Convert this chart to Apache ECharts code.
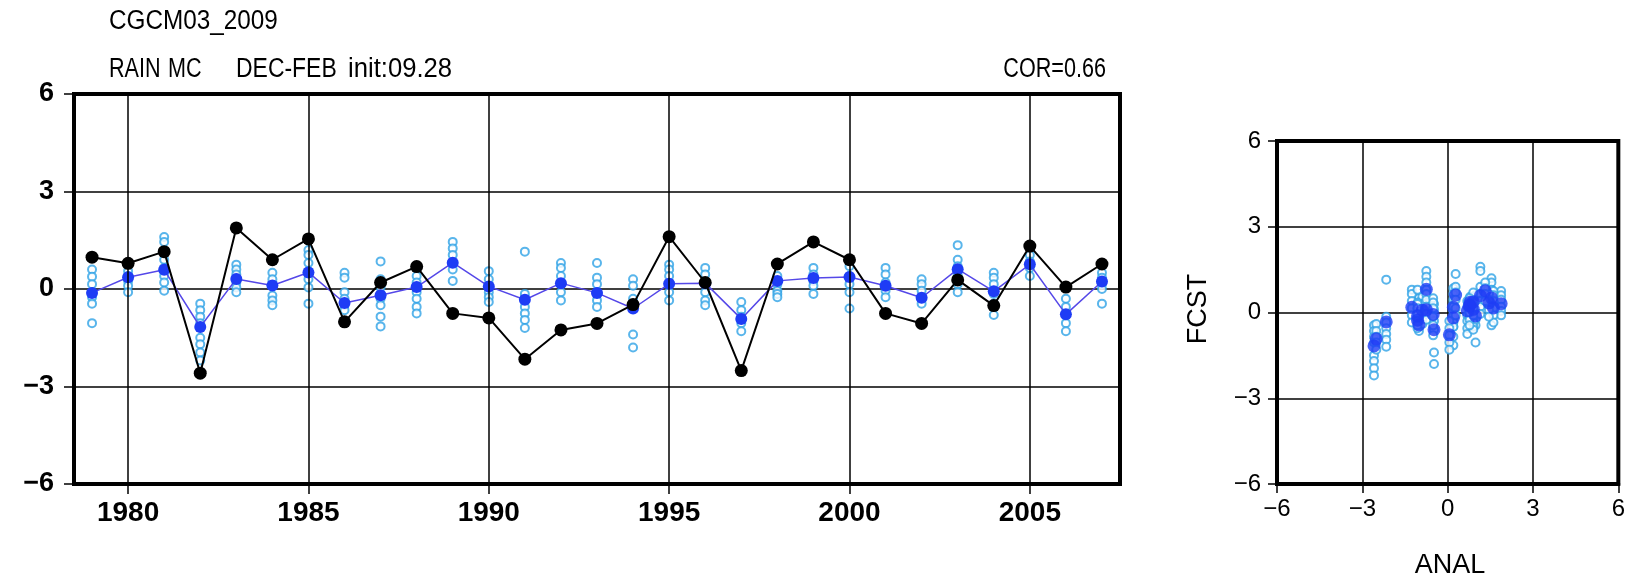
<!DOCTYPE html>
<html>
<head>
<meta charset="utf-8">
<script src="https://cdn.jsdelivr.net/npm/echarts@6/dist/echarts.min.js"></script>
<style>
html,body{margin:0;padding:0;background:#fff;}
#c{width:1628px;height:577px;}
</style>
</head>
<body>
<div id="c"></div>
<script>
// ---- data ----
const years = [1979,1980,1981,1982,1983,1984,1985,1986,1987,1988,1989,1990,1991,1992,1993,1994,1995,1996,1997,1998,1999,2000,2001,2002,2003,2004,2005,2006,2007];
const obsAnom = [0.98,0.79,1.15,-2.59,1.88,0.90,1.54,-1.01,0.20,0.69,-0.75,-0.89,-2.16,-1.26,-1.06,-0.48,1.61,0.20,-2.51,0.77,1.45,0.90,-0.75,-1.06,0.28,-0.51,1.32,0.06,0.77];
const ensMean = [-0.12,0.36,0.59,-1.17,0.31,0.11,0.51,-0.43,-0.19,0.06,0.81,0.08,-0.33,0.18,-0.12,-0.60,0.16,0.18,-0.92,0.25,0.34,0.37,0.10,-0.27,0.61,-0.07,0.76,-0.78,0.23];
const ensMembers = [
  [0.6,0.38,0.15,-0.1,-0.25,-0.45,-1.05],
  [0.55,0.4,0.25,0.1,-0.1],
  [1.6,1.45,0.9,0.65,0.4,0.2,-0.05],
  [-0.45,-0.65,-0.85,-1.05,-1.5,-1.7,-1.95,-2.2],
  [0.75,0.6,0.45,0.2,0.05,-0.1],
  [0.5,0.3,0.1,-0.2,-0.35,-0.5],
  [1.2,1.05,0.8,0.55,0.3,0.05,-0.45],
  [0.5,0.35,-0.1,-0.3,-0.5,-0.65],
  [0.85,0.3,0.05,-0.3,-0.5,-0.85,-1.15],
  [0.4,0.2,-0.1,-0.3,-0.55,-0.75],
  [1.45,1.25,1.05,0.8,0.6,0.25],
  [0.55,0.3,0.1,-0.1,-0.25,-0.4],
  [1.15,-0.15,-0.35,-0.55,-0.75,-0.95,-1.2],
  [0.8,0.65,0.4,0.15,-0.1,-0.35],
  [0.8,0.35,0.15,-0.15,-0.35,-0.55],
  [0.3,0.1,-0.3,-0.6,-1.4,-1.8],
  [0.75,0.6,0.4,0.15,-0.1,-0.35],
  [0.65,0.45,0.2,-0.1,-0.35,-0.5],
  [-0.4,-0.65,-0.85,-1.05,-1.3],
  [0.4,0.15,-0.05,-0.15,-0.25],
  [0.65,0.45,0.25,0.1,-0.15],
  [0.7,0.4,0.15,-0.1,-0.6],
  [0.65,0.45,0.2,-0.05,-0.25],
  [0.3,0.15,-0.05,-0.3,-0.45],
  [1.35,0.9,0.7,0.45,0.15,-0.1],
  [0.5,0.35,0.15,-0.15,-0.45,-0.8],
  [1.05,0.85,0.65,0.4],
  [-0.3,-0.55,-0.8,-1.05,-1.3],
  [0.5,0.35,0.15,0.0,-0.45]
];
const yearTicks = [1980,1985,1990,1995,2000,2005];

// ---- build series data ----
const ensTime = [];
const ensScatter = [];
years.forEach((y,i)=>{
  ensMembers[i].forEach(v=>{
    ensTime.push([y,v]);
    ensScatter.push([obsAnom[i],v]);
  });
});
const meanTime = years.map((y,i)=>[y,ensMean[i]]);
const obsTime = years.map((y,i)=>[y,obsAnom[i]]);
const meanScatter = years.map((y,i)=>[obsAnom[i],ensMean[i]]);

const FONT = '"Liberation Sans", Arial, sans-serif';
const minusFmt = v => String(v).replace('-', '\u2212');
const LIGHT = '#2fa3e6';
const BLUE = '#1e3cf5';

function title(text, x, y, sx, align){
  return {type:'text', x:x, y:y, scaleX:sx, scaleY:1,
    style:{text:text, font:'27px '+FONT, fill:'#000', textAlign:align||'left', textVerticalAlign:'middle'}};
}

const chart = echarts.init(document.getElementById('c'), null, {renderer:'canvas'});
chart.setOption({
  animation:false,
  backgroundColor:'#fff',
  grid:[
    {left:74, top:94, width:1046, height:390, show:true, borderColor:'#000', borderWidth:4, containLabel:false},
    {left:1277, top:141, width:343, height:343, show:true, borderColor:'#000', borderWidth:4, containLabel:false}
  ],
  xAxis:[
    {gridIndex:0, type:'value', min:1978.5, max:2007.5,
     axisLine:{show:true, onZero:false, lineStyle:{color:'#000', width:4}},
     axisTick:{show:true, customValues:yearTicks, length:10, lineStyle:{color:'#000', width:1.5}},
     axisLabel:{show:true, customValues:yearTicks, fontSize:28, fontWeight:'bold', fontFamily:FONT, color:'#000', margin:15,
                formatter:v=>String(v)},
     splitLine:{show:false}},
    {gridIndex:1, type:'value', min:-6, max:6, interval:3,
     axisLine:{show:true, onZero:false, lineStyle:{color:'#000', width:4}},
     axisTick:{show:true, length:9, lineStyle:{color:'#000', width:1.5}},
     axisLabel:{show:true, fontSize:24, fontFamily:FONT, color:'#000', margin:13, formatter:minusFmt},
     splitLine:{show:true, lineStyle:{color:'#000', width:1.5}}}
  ],
  yAxis:[
    {gridIndex:0, type:'value', min:-6, max:6, interval:3,
     axisLine:{show:true, onZero:false, lineStyle:{color:'#000', width:4}},
     axisTick:{show:true, length:10, lineStyle:{color:'#000', width:1.5}},
     axisLabel:{show:true, fontSize:27, fontWeight:'bold', fontFamily:FONT, color:'#000', margin:20, formatter:minusFmt},
     splitLine:{show:true, lineStyle:{color:'#000', width:1.5}}},
    {gridIndex:1, type:'value', min:-6, max:6, interval:3,
     axisLine:{show:true, onZero:false, lineStyle:{color:'#000', width:4}},
     axisTick:{show:true, length:9, lineStyle:{color:'#000', width:1.5}},
     axisLabel:{show:true, fontSize:24, fontFamily:FONT, color:'#000', margin:16, formatter:minusFmt},
     splitLine:{show:true, lineStyle:{color:'#000', width:1.5}}}
  ],
  series:[
    {type:'line', xAxisIndex:0, yAxisIndex:0, data:[], z:1, silent:true,
     markLine:{symbol:'none', silent:true, label:{show:false},
       lineStyle:{color:'#000', width:1.5, type:'solid'},
       data:yearTicks.map(y=>({xAxis:y}))}},
    {type:'scatter', xAxisIndex:0, yAxisIndex:0, data:ensTime, z:3,
     symbol:'emptyCircle', symbolSize:8, itemStyle:{color:LIGHT, borderColor:LIGHT, borderWidth:1.6}},
    {type:'line', xAxisIndex:0, yAxisIndex:0, data:meanTime, z:4,
     symbol:'circle', symbolSize:12, showAllSymbol:true,
     lineStyle:{color:'#5548e8', width:1.5}, itemStyle:{color:BLUE}},
    {type:'line', xAxisIndex:0, yAxisIndex:0, data:obsTime, z:5,
     symbol:'circle', symbolSize:13, showAllSymbol:true,
     lineStyle:{color:'#000', width:2}, itemStyle:{color:'#000'}},
    {type:'scatter', xAxisIndex:1, yAxisIndex:1, data:ensScatter, z:3,
     symbol:'emptyCircle', symbolSize:8, itemStyle:{color:LIGHT, borderColor:LIGHT, borderWidth:1.6}},
    {type:'scatter', xAxisIndex:1, yAxisIndex:1, data:meanScatter, z:4,
     symbol:'circle', symbolSize:13, itemStyle:{color:BLUE}}
  ],
  graphic:[
    title('CGCM03_2009', 109, 22, 0.9),
    title('RAIN', 109, 70, 0.8),
    title('MC', 168, 70, 0.8),
    title('DEC-FEB', 236, 70, 0.85),
    title('init:09.28', 348, 70, 0.95),
    title('COR=0.66', 1106, 70, 0.8, 'right'),
    {type:'text', x:1199, y:309, rotation:Math.PI/2,
     style:{text:'FCST', font:'27px '+FONT, fill:'#000', textAlign:'center', textVerticalAlign:'middle'}},
    {type:'text', x:1450, y:566,
     style:{text:'ANAL', font:'27px '+FONT, fill:'#000', textAlign:'center', textVerticalAlign:'middle'}}
  ]
});
</script>
</body>
</html>
